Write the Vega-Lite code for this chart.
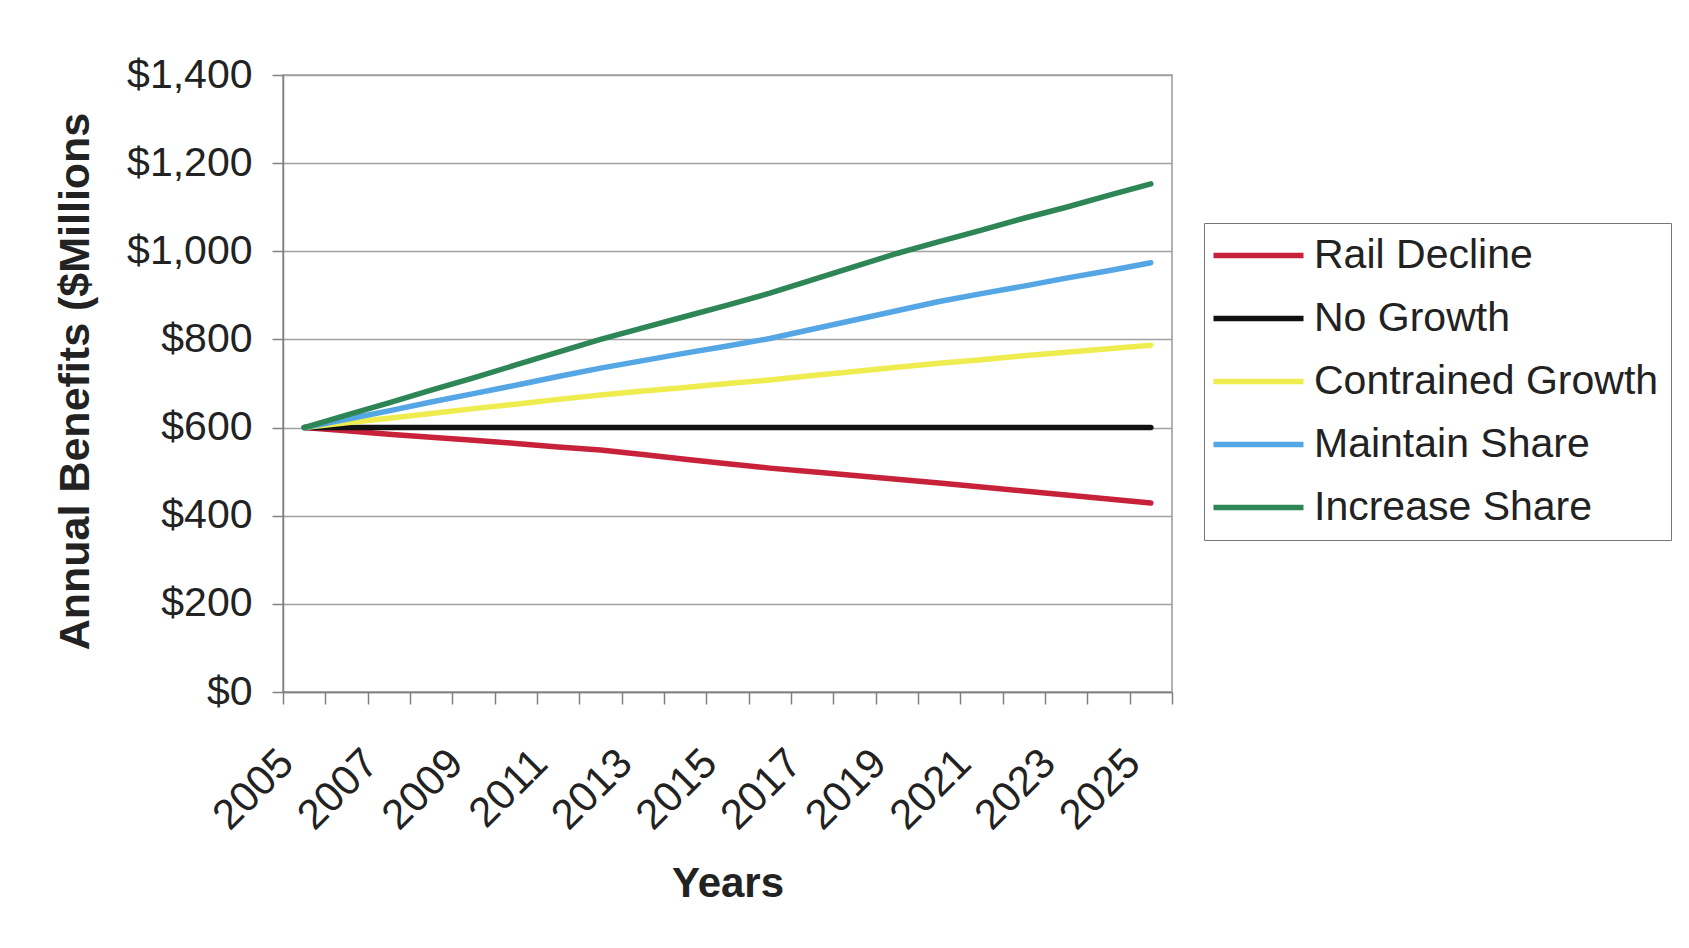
{
  "$schema": "https://vega.github.io/schema/vega-lite/v6.json",
  "width": 889,
  "height": 617,
  "autosize": {"type": "none"},
  "padding": {"left": 283, "top": 75, "right": 517, "bottom": 256},
  "background": "#ffffff",
  "data": {
    "values": [
      {"year": "2005", "scenario": "Rail Decline", "value": 600},
      {"year": "2006", "scenario": "Rail Decline", "value": 593},
      {"year": "2007", "scenario": "Rail Decline", "value": 585},
      {"year": "2008", "scenario": "Rail Decline", "value": 578},
      {"year": "2009", "scenario": "Rail Decline", "value": 571},
      {"year": "2010", "scenario": "Rail Decline", "value": 564},
      {"year": "2011", "scenario": "Rail Decline", "value": 556},
      {"year": "2012", "scenario": "Rail Decline", "value": 549},
      {"year": "2013", "scenario": "Rail Decline", "value": 539},
      {"year": "2014", "scenario": "Rail Decline", "value": 528},
      {"year": "2015", "scenario": "Rail Decline", "value": 518},
      {"year": "2016", "scenario": "Rail Decline", "value": 508},
      {"year": "2017", "scenario": "Rail Decline", "value": 500},
      {"year": "2018", "scenario": "Rail Decline", "value": 491},
      {"year": "2019", "scenario": "Rail Decline", "value": 483},
      {"year": "2020", "scenario": "Rail Decline", "value": 474},
      {"year": "2021", "scenario": "Rail Decline", "value": 465},
      {"year": "2022", "scenario": "Rail Decline", "value": 456},
      {"year": "2023", "scenario": "Rail Decline", "value": 447},
      {"year": "2024", "scenario": "Rail Decline", "value": 438},
      {"year": "2025", "scenario": "Rail Decline", "value": 429},
      {"year": "2005", "scenario": "No Growth", "value": 600},
      {"year": "2006", "scenario": "No Growth", "value": 600},
      {"year": "2007", "scenario": "No Growth", "value": 600},
      {"year": "2008", "scenario": "No Growth", "value": 600},
      {"year": "2009", "scenario": "No Growth", "value": 600},
      {"year": "2010", "scenario": "No Growth", "value": 600},
      {"year": "2011", "scenario": "No Growth", "value": 600},
      {"year": "2012", "scenario": "No Growth", "value": 600},
      {"year": "2013", "scenario": "No Growth", "value": 600},
      {"year": "2014", "scenario": "No Growth", "value": 600},
      {"year": "2015", "scenario": "No Growth", "value": 600},
      {"year": "2016", "scenario": "No Growth", "value": 600},
      {"year": "2017", "scenario": "No Growth", "value": 600},
      {"year": "2018", "scenario": "No Growth", "value": 600},
      {"year": "2019", "scenario": "No Growth", "value": 600},
      {"year": "2020", "scenario": "No Growth", "value": 600},
      {"year": "2021", "scenario": "No Growth", "value": 600},
      {"year": "2022", "scenario": "No Growth", "value": 600},
      {"year": "2023", "scenario": "No Growth", "value": 600},
      {"year": "2024", "scenario": "No Growth", "value": 600},
      {"year": "2025", "scenario": "No Growth", "value": 600},
      {"year": "2005", "scenario": "Contrained Growth", "value": 600},
      {"year": "2006", "scenario": "Contrained Growth", "value": 611},
      {"year": "2007", "scenario": "Contrained Growth", "value": 621},
      {"year": "2008", "scenario": "Contrained Growth", "value": 632},
      {"year": "2009", "scenario": "Contrained Growth", "value": 643},
      {"year": "2010", "scenario": "Contrained Growth", "value": 653},
      {"year": "2011", "scenario": "Contrained Growth", "value": 664},
      {"year": "2012", "scenario": "Contrained Growth", "value": 674},
      {"year": "2013", "scenario": "Contrained Growth", "value": 683},
      {"year": "2014", "scenario": "Contrained Growth", "value": 691},
      {"year": "2015", "scenario": "Contrained Growth", "value": 700},
      {"year": "2016", "scenario": "Contrained Growth", "value": 708},
      {"year": "2017", "scenario": "Contrained Growth", "value": 718},
      {"year": "2018", "scenario": "Contrained Growth", "value": 727},
      {"year": "2019", "scenario": "Contrained Growth", "value": 737},
      {"year": "2020", "scenario": "Contrained Growth", "value": 746},
      {"year": "2021", "scenario": "Contrained Growth", "value": 754},
      {"year": "2022", "scenario": "Contrained Growth", "value": 763},
      {"year": "2023", "scenario": "Contrained Growth", "value": 771},
      {"year": "2024", "scenario": "Contrained Growth", "value": 779},
      {"year": "2025", "scenario": "Contrained Growth", "value": 787},
      {"year": "2005", "scenario": "Maintain Share", "value": 600},
      {"year": "2006", "scenario": "Maintain Share", "value": 619},
      {"year": "2007", "scenario": "Maintain Share", "value": 638},
      {"year": "2008", "scenario": "Maintain Share", "value": 658},
      {"year": "2009", "scenario": "Maintain Share", "value": 677},
      {"year": "2010", "scenario": "Maintain Share", "value": 696},
      {"year": "2011", "scenario": "Maintain Share", "value": 716},
      {"year": "2012", "scenario": "Maintain Share", "value": 735},
      {"year": "2013", "scenario": "Maintain Share", "value": 752},
      {"year": "2014", "scenario": "Maintain Share", "value": 769},
      {"year": "2015", "scenario": "Maintain Share", "value": 785},
      {"year": "2016", "scenario": "Maintain Share", "value": 802},
      {"year": "2017", "scenario": "Maintain Share", "value": 823},
      {"year": "2018", "scenario": "Maintain Share", "value": 844},
      {"year": "2019", "scenario": "Maintain Share", "value": 865},
      {"year": "2020", "scenario": "Maintain Share", "value": 886},
      {"year": "2021", "scenario": "Maintain Share", "value": 904},
      {"year": "2022", "scenario": "Maintain Share", "value": 921},
      {"year": "2023", "scenario": "Maintain Share", "value": 939},
      {"year": "2024", "scenario": "Maintain Share", "value": 956},
      {"year": "2025", "scenario": "Maintain Share", "value": 974},
      {"year": "2005", "scenario": "Increase Share", "value": 600},
      {"year": "2006", "scenario": "Increase Share", "value": 628},
      {"year": "2007", "scenario": "Increase Share", "value": 656},
      {"year": "2008", "scenario": "Increase Share", "value": 685},
      {"year": "2009", "scenario": "Increase Share", "value": 713},
      {"year": "2010", "scenario": "Increase Share", "value": 742},
      {"year": "2011", "scenario": "Increase Share", "value": 771},
      {"year": "2012", "scenario": "Increase Share", "value": 800},
      {"year": "2013", "scenario": "Increase Share", "value": 826},
      {"year": "2014", "scenario": "Increase Share", "value": 852},
      {"year": "2015", "scenario": "Increase Share", "value": 878},
      {"year": "2016", "scenario": "Increase Share", "value": 905},
      {"year": "2017", "scenario": "Increase Share", "value": 935},
      {"year": "2018", "scenario": "Increase Share", "value": 965},
      {"year": "2019", "scenario": "Increase Share", "value": 995},
      {"year": "2020", "scenario": "Increase Share", "value": 1022},
      {"year": "2021", "scenario": "Increase Share", "value": 1048},
      {"year": "2022", "scenario": "Increase Share", "value": 1075},
      {"year": "2023", "scenario": "Increase Share", "value": 1100},
      {"year": "2024", "scenario": "Increase Share", "value": 1127},
      {"year": "2025", "scenario": "Increase Share", "value": 1153}
    ]
  },
  "mark": {"type": "line", "strokeWidth": 5.5, "strokeCap": "round", "strokeJoin": "round"},
  "encoding": {
    "x": {
      "field": "year",
      "type": "ordinal",
      "scale": {"type": "band", "paddingInner": 0, "paddingOuter": 0},
      "axis": {
        "title": "Years",
        "titleFontSize": 42,
        "titleFontWeight": "bold",
        "titleY": 191,
        "titleBaseline": "middle",
        "labelAngle": -45,
        "labelAlign": "right",
        "labelBaseline": "middle",
        "labelPadding": 52,
        "labelOffset": -18,
        "labelFontSize": 42,
        "labelOverlap": false,
        "labelExpr": "parseInt(datum.label) % 2 == 1 ? datum.label : ''",
        "tickSize": 12,
        "tickBand": "extent",
        "grid": false
      }
    },
    "y": {
      "field": "value",
      "type": "quantitative",
      "scale": {"domain": [0, 1400], "nice": false},
      "axis": {
        "title": "Annual Benefits ($Millions",
        "titleFontSize": 43,
        "titleFontWeight": "bold",
        "titleX": -208,
        "titleY": 306,
        "titleAngle": -90,
        "titleBaseline": "middle",
        "titleAlign": "center",
        "values": [0, 200, 400, 600, 800, 1000, 1200, 1400],
        "format": "$,.0f",
        "tickSize": 11,
        "labelPadding": 20,
        "grid": true
      }
    },
    "color": {
      "field": "scenario",
      "type": "nominal",
      "sort": ["Rail Decline", "No Growth", "Contrained Growth", "Maintain Share", "Increase Share"],
      "scale": {
        "domain": ["Rail Decline", "No Growth", "Contrained Growth", "Maintain Share", "Increase Share"],
        "range": ["#c8213a", "#111111", "#efec4f", "#55a6e4", "#2e8657"]
      },
      "legend": {
        "title": null,
        "orient": "none",
        "legendX": 921,
        "legendY": 148,
        "symbolType": "M-3,0H3",
        "symbolSize": 900,
        "symbolOffset": 22,
        "symbolStrokeWidth": 5.5,
        "labelFontSize": 41,
        "labelOffset": 35,
        "labelLimit": 600,
        "rowPadding": 21,
        "padding": 12,
        "strokeColor": "#777777",
        "fillColor": "#ffffff"
      }
    }
  },
  "config": {
    "font": "Liberation Sans",
    "view": {"stroke": "#9a9a9a", "strokeWidth": 1.5},
    "axis": {
      "labelFont": "Liberation Sans",
      "titleFont": "Liberation Sans",
      "labelFontSize": 41,
      "labelColor": "#222222",
      "titleColor": "#222222",
      "domainColor": "#808080",
      "domainWidth": 1.5,
      "tickColor": "#808080",
      "tickWidth": 1.5,
      "gridColor": "#a0a0a0",
      "gridWidth": 1.5
    },
    "legend": {"labelColor": "#222222", "labelFont": "Liberation Sans"}
  }
}
